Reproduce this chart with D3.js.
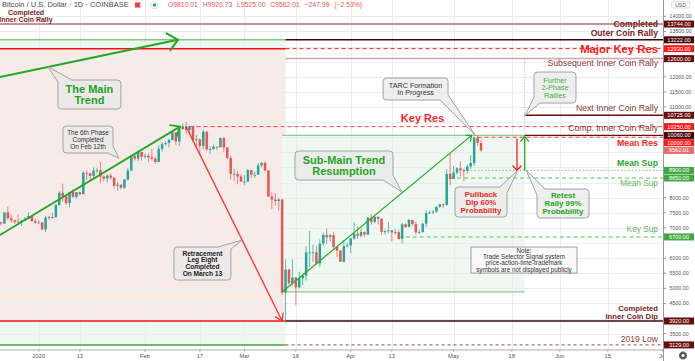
<!DOCTYPE html>
<html><head><meta charset="utf-8">
<script src="https://cdn.jsdelivr.net/npm/d3@7"></script>
<style>
html,body{margin:0;padding:0;background:#fff;}
svg{display:block;font-family:"Liberation Sans",Arial,sans-serif;}
</style></head><body>
<svg id="c" width="695" height="361"></svg>
<script>
// ---------------- DATA ----------------
const candleStart = "2019-12-21";
const opens = [7190,7145,7510,7320,7255,7200,7195,7245,7300,7390,7220,
 7170,7180,6950,7340,7355,7350,7760,8160,8045,7820,8190,8025,8185,8115,8825,8810,8720,8900,8910,8700,8630,8730,8660,8390,8430,8330,8600,8900,9390,9290,9510,
 9350,9385,9330,9290,9180,9615,9770,9810,9910,10160,9860,10270,10360,10240,10370,9900,9930,9710,10180,9600,9610,9690,9670,9970,9660,9310,8790,8790,8700,
 8530,8530,8910,8760,8760,9070,9150,8900,8035,7940,7890,7940,4860,5620,5170,5360,5030,5330,5420,6190,6190,6190,5820,6480,6770,6690,6760,6370,6250,5880,6400,
 6420,6650,6810,6740,6860,6780,7340,7200,7370,7300,6870,6890,6920,6850,6860,6630,7120,7030,7260,7130,6850,6860,7140,7490,7510,7540,7700,7780,7760,8790,
 8620,8830,8970,8900,8890,9030,9150,9990,9810.01];
const highs = [7190,7518,7695,7440,7270,7440,7270,7360,7515,7420,7310,
 7250,7195,7400,7400,7500,7790,8210,8460,8050,8190,8290,8190,8195,8880,8900,8820,9000,8990,9190,8740,8780,8800,8670,8520,8440,8620,8980,9400,9440,9560,9520,
 9460,9475,9610,9340,9740,9840,9860,9950,10170,10170,10300,10450,10500,10390,10380,10080,9960,10250,10200,9700,9760,9700,9990,10020,9680,9380,8960,8890,8780,
 8750,8950,8920,8850,9150,9190,9200,8910,8180,8150,7990,7970,5960,5650,5950,5380,5550,5450,6400,6900,6450,6420,6620,6840,6980,6800,6870,6380,6260,6600,6520,
 6680,7200,7050,6990,6880,7370,7460,7420,7370,7310,6950,7200,6920,6970,6940,7170,7150,7300,7270,7220,6950,7160,7580,7580,7590,7710,7800,7800,8950,9460,
 9050,9010,9200,8960,9090,9400,10020,10060,9920.73];
const lows = [7080,7125,7265,7170,7130,7160,7060,7235,7285,7220,7120,
 7150,6935,6860,7270,7310,7350,7720,7870,7760,7680,8000,7970,8070,8115,8580,8600,8650,8800,8480,8530,8500,8600,8300,8230,8270,8290,8560,8870,9230,9210,9230,
 9300,9180,9230,9120,9170,9520,9720,9670,9890,9740,9710,10250,10100,10130,9840,9640,9470,9590,9540,9440,9580,9570,9650,9500,9280,8600,8550,8440,8520,
 8410,8520,8650,8660,8760,9000,8880,8020,7630,7740,7580,4780,3860,5100,5090,4440,5000,5100,5260,5700,5870,5770,5710,6400,6460,6540,6270,6040,5880,5860,6350,
 6160,6600,6640,6680,6700,6770,7110,7150,7110,6760,6780,6820,6560,6770,6620,6480,6990,7020,7060,6780,6800,6850,7020,7460,7450,7490,7660,7650,7730,8410,
 8620,8760,8700,8530,8790,8950,9040,9720,9525];
const closes = [7145,7510,7320,7255,7200,7195,7245,7300,7390,7220,7170,
 7180,6950,7340,7355,7350,7760,8160,8045,7820,8190,8025,8185,8115,8825,8810,8720,8900,8910,8700,8630,8730,8660,8390,8430,8330,8600,8900,9390,9290,9510,9350,
 9385,9330,9290,9180,9615,9770,9810,9910,10160,9860,10270,10360,10240,10370,9900,9930,9710,10180,9600,9610,9690,9670,9970,9660,9310,8790,8790,8700,8530,
 8530,8910,8760,8760,9070,9150,8900,8035,7940,7890,7940,4860,5620,5170,5360,5030,5330,5420,6190,6190,6190,5820,6480,6770,6690,6760,6370,6250,5880,6400,6420,
 6650,6810,6740,6860,6780,7340,7200,7370,7300,6870,6890,6920,6850,6860,6630,7120,7030,7260,7130,6850,6860,7140,7490,7510,7540,7700,7780,7760,8790,8620,
 8830,8970,8900,8890,9030,9150,9990,9810,9562.01];

const xTickDates  = ["2020-01-01","2020-01-13","2020-02-01","2020-02-17","2020-03-01","2020-03-16","2020-04-01","2020-04-13","2020-05-01","2020-05-18","2020-06-01","2020-06-15","2020-07-01"];
const xTickLabels = ["2020","13","Feb","17","Mar","16","Apr","13","May","18","Jun","15","Jul"];
const priceTicks = [3000,3500,4000,4500,5000,5500,6000,6500,7000,7500,8000,8500,9000,9500,10000,10500,11000,11500,12000,12500,13000,13500,14000];

const levelValues = [13744, 13222, 12930, 12600, 10725, 10350, 10060, 10000, 8900, 8650, 6700, 3920, 3129];
const levelFrom   = ["2019-12-20T12:00","2020-03-13","2020-03-13","2020-03-13","2020-05-21T18:00","2020-02-14","2020-05-21T18:00","2020-05-08","2020-05-04","2020-04-30","2020-04-15","2020-03-13","2020-03-13"];
const lastPrice = 9562.01;
const ohlcText = "O9810.01 H9920.73 L9525.00 C9562.01 \u2212247.99 (\u22122.53%)";

// ---------------- SETUP ----------------
const P = s => (s.length > 10 ? d3.utcParse("%Y-%m-%dT%H:%M") : d3.utcParse("%Y-%m-%d"))(s);
const plotR = 663, plotB = 349.5;
const x = d3.scaleUtc().domain([P("2019-12-21"), P("2020-07-01")]).range([1, 662.7]);
const y = d3.scaleLinear().domain([3000, 14000]).range([348.8, 16.3]);
const X = s => x(P(s)), Y = v => y(v);

const svg = d3.select("#c");
svg.append("rect").attr("width",695).attr("height",361).attr("fill","#fff");
const defs = svg.append("defs");
defs.append("clipPath").attr("id","plot").append("rect").attr("x",0).attr("y",0).attr("width",plotR).attr("height",plotB);
defs.append("clipPath").attr("id","xax").append("rect").attr("x",0).attr("y",plotB).attr("width",plotR).attr("height",12);
const g = svg.append("g").attr("clip-path","url(#plot)");

// ---------------- ZONES ----------------
const leftX0 = X("2019-12-20T00:00"), leftX1 = X("2020-03-13");
const PINK = "#f7ebe8", LGREEN = "#eef7ee";
g.append("rect").attr("x",leftX0).attr("width",leftX1-leftX0).attr("y",Y(13222)).attr("height",Y(12930)-Y(13222)).attr("fill",LGREEN);
g.append("rect").attr("x",leftX0).attr("width",leftX1-leftX0).attr("y",Y(12930)).attr("height",Y(3920)-Y(12930)).attr("fill",PINK);
g.append("rect").attr("x",leftX0).attr("width",leftX1-leftX0).attr("y",Y(3920)).attr("height",Y(3129)-Y(3920)).attr("fill",LGREEN);
const rX0 = X("2020-03-12"), rX1 = X("2020-05-21T18:00");
g.append("rect").attr("x",rX0).attr("width",rX1-rX0).attr("y",Y(10060)).attr("height",Y(4880)-Y(10060)).attr("fill","#f1f8f1");

// ---------------- GRID ----------------
const grid = g.append("g").attr("stroke","#e9ecf2").attr("stroke-width",1);
priceTicks.forEach(v => grid.append("line").attr("x1",0).attr("x2",plotR).attr("y1",Math.round(Y(v))+0.5).attr("y2",Math.round(Y(v))+0.5));
xTickDates.forEach(d => grid.append("line").attr("y1",0).attr("y2",plotB).attr("x1",Math.round(X(d))+0.5).attr("x2",Math.round(X(d))+0.5));

// zone borders
const seg = (x1,x2,v,col,w,dash) => g.append("line").attr("x1",x1).attr("x2",x2).attr("y1",Y(v)).attr("y2",Y(v)).attr("stroke",col).attr("stroke-width",w).attr("stroke-dasharray",dash||null);
seg(leftX0,leftX1,13222,"#4caf50",1);
seg(leftX0,leftX1,12930,"#ff1010",1.5);
seg(leftX0,leftX1,3920,"#ff1010",1.5);
seg(leftX0,leftX1,3129,"#43a047",1.5);
seg(rX0,rX1,10060,"#8fca8f",1.2);
seg(rX0,rX1,4880,"#8fca8f",1.2);

// ---------------- LEVEL LINES ----------------
const levelStyle = {
 13744:["#c99393",2,null], 13222:["#3d0808",1.5,null], 12930:["#ff1e1e",1,"4,3"], 12600:["#cfa9a9",1.5,null],
 10725:["#6b1010",1.5,null], 10350:["#ff4040",1,"4,3"], 10060:["#6b1010",1.2,null], 10000:["#ff4040",1,"4,3"],
 8900:["#8fd48f",1.3,"1.5,2"], 8650:["#5cbf5c",1,"4,3"], 6700:["#5cbf5c",1,"4,3"], 3920:["#3d0808",1.5,null], 3129:["#a04848",1,"3,3"]
};
levelValues.forEach((v,i) => { const s = levelStyle[v]; seg(X(levelFrom[i]), plotR, v, s[0], s[1], s[2]); });

// projection dotted line
g.append("line").attr("x1",X("2020-05-21T18:00")).attr("x2",X("2020-05-21T18:00")).attr("y1",Y(12600)).attr("y2",Y(10060))
 .attr("stroke","#7cc47c").attr("stroke-width",1).attr("stroke-dasharray","1,2");

// ---------------- CANDLES ----------------
const UP = "#26a69a", DN = "#ef5350";
const s0 = P(candleStart);
const cg = g.append("g");
opens.forEach((o,i) => {
  const d = d3.utcDay.offset(s0, i), cx = x(d), c = closes[i], col = c >= o ? UP : DN;
  cg.append("line").attr("x1",cx).attr("x2",cx).attr("y1",Y(highs[i])).attr("y2",Y(lows[i])).attr("stroke",col).attr("stroke-width",0.9).attr("opacity",0.8);
  const top = Y(Math.max(o,c)), h = Math.max(0.9, Math.abs(Y(o)-Y(c)));
  cg.append("rect").attr("x",cx-1.25).attr("width",2.5).attr("y",top).attr("height",h).attr("fill",col);
});

// ---------------- TREND LINES / ARROWS ----------------
function arrow(p0, p1, col, w, len, ang) {
  const x0=X(p0[0]), y0=Y(p0[1]), x1=X(p1[0]), y1=Y(p1[1]);
  g.append("line").attr("x1",x0).attr("y1",y0).attr("x2",x1).attr("y2",y1).attr("stroke",col).attr("stroke-width",w);
  const back = Math.atan2(y0-y1, x0-x1);
  [ang,-ang].forEach(a => {
    const t = back + a*Math.PI/180;
    g.append("line").attr("x1",x1).attr("y1",y1).attr("x2",x1+len*Math.cos(t)).attr("y2",y1+len*Math.sin(t))
      .attr("stroke",col).attr("stroke-width",w).attr("stroke-linecap","round");
  });
}
arrow(["2019-12-20T17:00",11990],["2020-02-10T14:00",13222],"#22a722",2,13,42);
arrow(["2019-12-20T17:00",6765],["2020-02-11T05:00",10350],"#22a722",1.8,10,40);
arrow(["2020-02-13",10350],["2020-03-12",3920],"#ff3030",1.3,8,33);
arrow(["2020-03-12",4880],["2020-05-06T06:00",10060],"#1fae1f",1.2,6,40);
arrow(["2020-05-19T12:00",9960],["2020-05-19T12:00",8900],"#ff2020",1.3,6,42);
arrow(["2020-05-21T18:00",8900],["2020-05-21T18:00",10020],"#22aa22",1.3,6,42);

// ---------------- CALLOUTS ----------------
function calloutPath(x0,y0,x1,y1,tip,corner,dh,dv,r){
  const C = {
    tl:{x:x0,y:y0,i:[0,1],o:[1,0],di:dv,do:dh},
    tr:{x:x1,y:y0,i:[-1,0],o:[0,1],di:dh,do:dv},
    br:{x:x1,y:y1,i:[0,-1],o:[-1,0],di:dv,do:dh},
    bl:{x:x0,y:y1,i:[1,0],o:[0,-1],di:dh,do:dv}
  };
  const order = ["tl","tr","br","bl"];
  const parts = order.map(k => {
    const c = C[k];
    if (k === corner) return {pin:[c.x+c.i[0]*c.di, c.y+c.i[1]*c.di], mid:"L"+tip[0]+","+tip[1], pout:[c.x+c.o[0]*c.do, c.y+c.o[1]*c.do]};
    return {pin:[c.x+c.i[0]*r, c.y+c.i[1]*r], mid:"Q"+c.x+","+c.y, pout:[c.x+c.o[0]*r, c.y+c.o[1]*r]};
  });
  let d = "M"+parts[0].pout;
  for (let j=1;j<=4;j++){ const p = parts[j%4]; d += "L"+p.pin+p.mid+(p.mid[0]==="Q"?" ":"L")+p.pout; }
  return d+"Z";
}
const callouts = [
 {c:["2020-01-15T19:00",11412], w:63, h:29, tip:["2020-01-03T17:00",12330], corner:"tl", dh:14, dv:2, lines:["The Main","Trend"], fs:11, lh:10.6, bold:true, col:"#22a122"},
 {c:["2020-01-15T09:00",9923], w:50, h:27, tip:["2020-01-24T10:00",9301], corner:"br", dh:5, dv:7, lines:["The 6th Phase","Completed","On Feb 12th"], fs:6.4, lh:6.9, bold:false, col:"#333"},
 {c:["2020-02-17T18:00",5820], w:57, h:33, tip:["2020-02-29T08:00",6598], corner:"tr", dh:13, dv:2, lines:["Retracement","Leg Eight","Completed","On March 13"], fs:6.6, lh:6.9, bold:true, col:"#222"},
 {c:["2020-03-30T01:00",9063], w:98, h:29, tip:["2020-04-15T23:00",8186], corner:"br", dh:10, dv:5, lines:["Sub-Main Trend","Resumption"], fs:11, lh:10.6, bold:true, col:"#1ea51e"},
 {c:["2020-04-19T22:00",11594], w:65, h:22, tip:["2020-05-07T13:00",10039], corner:"br", dh:8, dv:5, lines:["TARC Formation","In Progress"], fs:7.2, lh:7.6, bold:false, col:"#333"},
 {c:["2020-05-09T00:00",7855], w:52, h:30, tip:["2020-05-19T19:00",8914], corner:"tr", dh:7, dv:6, lines:["Pullback","Dip 60%","Probability"], fs:7.9, lh:7.8, bold:true, col:"#f02828"},
 {c:["2020-06-01T22:00",7806], w:52, h:29, tip:["2020-05-22T03:00",8914], corner:"tl", dh:8, dv:6, lines:["Retest","Rally 99%","Probability"], fs:7.9, lh:7.8, bold:true, col:"#22a822"},
 {c:["2020-05-30T14:00",11643], w:42, h:31, tip:["2020-05-21T20:00",10717], corner:"bl", dh:6, dv:6, lines:["Further","2-Phase","Rallies"], fs:7.3, lh:7.6, bold:false, col:"#3cb43c"},
 {c:["2020-05-21T13:00",5937], w:106, h:26, tip:null, lines:["Note:","Trade Selector Signal system","price-action-time-trademark","symbols are not displayed publicly"], fs:6.3, lh:6.4, bold:false, col:"#333"}
];
const ag = svg.append("g").attr("clip-path","url(#plot)");
callouts.forEach(o => {
  const cx = X(o.c[0]), cy = Y(o.c[1]);
  const x0 = cx-o.w/2, x1 = cx+o.w/2, y0 = cy-o.h/2, y1 = cy+o.h/2;
  if (o.tip) {
    const tp = [X(o.tip[0]), Y(o.tip[1])];
    ag.append("path").attr("d", calloutPath(x0,y0,x1,y1,tp,o.corner,o.dh,o.dv,3.5))
      .attr("fill","rgba(232,232,232,0.7)").attr("stroke","#a3a3a3").attr("stroke-width",1);
  } else {
    ag.append("rect").attr("x",x0).attr("y",y0).attr("width",o.w).attr("height",o.h)
      .attr("fill","rgba(250,250,250,0.9)").attr("stroke","#8a8a8a").attr("stroke-width",0.8);
  }
  const n = o.lines.length;
  o.lines.forEach((t,k) => {
    ag.append("text").attr("x",cx).attr("y",cy + (k-(n-1)/2)*o.lh).attr("dy","0.35em")
      .attr("text-anchor","middle").attr("font-size",o.fs).attr("font-weight",o.bold?"bold":"normal").attr("fill",o.col).text(t);
  });
});

// free texts
const texts = [
 {t:"Key Res", at:["2020-04-21T23:00",10634], fs:11, bold:true, col:"#ff1f1f", anchor:"middle"},
 {t:"Completed", at:["2019-12-28T07:00",14120], fs:7, bold:true, col:"#7b1c1c", anchor:"middle"},
 {t:"Inner Coin Rally", at:["2019-12-28T07:00",13890], fs:7, bold:true, col:"#7b1c1c", anchor:"middle"}
];
const rightAt = "2020-06-29T15:00";
const rightNotes = [
 {t:"Completed", p:13730, k:"mb"}, {t:"Outer Coin Rally", p:13440, k:"mb"},
 {t:"Major Key Res", p:12917, k:"rbig"},
 {t:"Subsequent Inner Coin Rally", p:12444, k:"br"},
 {t:"Next Inner Coin Rally", p:10955, k:"br"},
 {t:"Comp. Inner Coin Rally", p:10294, k:"br"},
 {t:"Mean Res", p:9797, k:"rb"},
 {t:"Mean Sup", p:9136, k:"gb"},
 {t:"Mean Sup", p:8474, k:"g"},
 {t:"Key Sup", p:6962, k:"g"},
 {t:"Completed", p:4355, k:"mb2"}, {t:"Inner Coin Dip", p:4080, k:"mb2"},
 {t:"2019 Low", p:3333, k:"br2"}
];
const noteStyle = {mb:[8.6,true,"#7b1c1c"], rbig:[11.3,true,"#ff1a1a"], br:[8.7,false,"#8c3b3b"], rb:[8.8,true,"#ff1f1f"],
  gb:[8.7,true,"#2ea52e"], g:[8.3,false,"#5cb85c"], mb2:[7.7,true,"#7b1c1c"], br2:[8.6,false,"#8c3b3b"]};
rightNotes.forEach(n => texts.push({t:n.t, at:[rightAt,n.p], fs:noteStyle[n.k][0], bold:noteStyle[n.k][1], col:noteStyle[n.k][2], anchor:"end"}));
texts.forEach(o => ag.append("text").attr("x",X(o.at[0])).attr("y",Y(o.at[1])).attr("dy","0.35em")
  .attr("text-anchor",o.anchor).attr("font-size",o.fs).attr("font-weight",o.bold?"bold":"normal").attr("fill",o.col).text(o.t));

// ---------------- HEADER ----------------
svg.append("text").attr("x",2).attr("y",6.8).attr("font-size",7.5).attr("fill","#4a4a4a").text("Bitcoin / U.S. Dollar \u00b7 1D \u00b7 COINBASE");
svg.append("path").attr("d","M135,2.5h6l-1.5,2.5l1.5,2.5h-6z").attr("fill","#f23645");
svg.append("circle").attr("cx",154.5).attr("cy",5).attr("r",3.6).attr("fill","#fff").attr("stroke","#d6ece9").attr("stroke-width",1.4);
svg.append("circle").attr("cx",154.5).attr("cy",5).attr("r",1.8).attr("fill","#26a69a");
svg.append("text").attr("x",168).attr("y",7.3).attr("font-size",6.8).attr("word-spacing",3).attr("fill","#ef5350").text(ohlcText);

// ---------------- AXES ----------------
svg.append("line").attr("x1",plotR+0.5).attr("x2",plotR+0.5).attr("y1",0).attr("y2",361).attr("stroke","#9a9a9a").attr("stroke-width",1);
svg.append("line").attr("x1",0).attr("x2",plotR).attr("y1",plotB+0.5).attr("y2",plotB+0.5).attr("stroke","#b0b0b0").attr("stroke-width",1);

// level labels with stacking
const labelKind = {13744:"m",13222:"d",12930:"r",12600:"m",10725:"m",10350:"r",10060:"d",10000:"r",8900:"g",8650:"g",6700:"g",3920:"m",3129:"m"};
const labelFill = {m:"#6a0d0d", d:"#4a0505", r:"#ff1a1a", g:"#43a843", last:"#ef6b6b"};
const labs = levelValues.map(v => ({v, k:labelKind[v]})).concat([{v:lastPrice, k:"last"}]).sort((a,b)=>b.v-a.v);
let prev = -1e9;
labs.forEach(l => { l.y = Math.max(Y(l.v), prev + 7.3); prev = l.y; });
const axg = svg.append("g");
priceTicks.forEach(v => {
  const ty = Y(v);
  if (ty < 8 || ty > plotB-3) return;
  if (labs.some(l => Math.abs(l.y-ty) < 7)) return;
  axg.append("line").attr("x1",plotR).attr("x2",plotR+3).attr("y1",ty).attr("y2",ty).attr("stroke","#9a9a9a");
  axg.append("text").attr("x",669.5).attr("y",ty).attr("dy","0.35em").attr("font-size",5.3).attr("fill","#555").text(d3.format(".2f")(v));
});
labs.forEach(l => {
  axg.append("rect").attr("x",664).attr("y",l.y-3.5).attr("width",30).attr("height",7).attr("fill",labelFill[l.k]);
  axg.append("text").attr("x",679).attr("y",l.y).attr("dy","0.35em").attr("text-anchor","middle").attr("font-size",5.6).attr("fill","#fff").text(d3.format(".2f")(l.v));
});
// USD box
axg.append("rect").attr("x",671.5).attr("y",1.5).attr("width",18).attr("height",6.5).attr("rx",1.5).attr("fill","#fff").attr("stroke","#d0d0d0").attr("stroke-width",0.7);
axg.append("text").attr("x",680.5).attr("y",4.9).attr("dy","0.35em").attr("text-anchor","middle").attr("font-size",5).attr("fill","#555").text("USD");

// x axis
const xg = svg.append("g").attr("clip-path","url(#xax)");
xTickDates.forEach((d,i) => {
  const tx = X(d);
  xg.append("line").attr("x1",tx).attr("x2",tx).attr("y1",plotB).attr("y2",plotB+2).attr("stroke","#9a9a9a");
  xg.append("text").attr("x",tx).attr("y",355.8).attr("dy","0.35em").attr("text-anchor","middle").attr("font-size",5.8).attr("fill","#555").text(xTickLabels[i]);
});
// gear
const gear = svg.append("g").attr("transform","translate(683,355.5)");
d3.range(8).forEach(k => gear.append("rect").attr("x",-0.7).attr("y",-4).attr("width",1.4).attr("height",8).attr("fill","#555").attr("transform","rotate("+k*22.5+")"));
gear.append("circle").attr("r",3).attr("fill","#555");
gear.append("circle").attr("r",1.5).attr("fill","#fff");
</script>
</body></html>
